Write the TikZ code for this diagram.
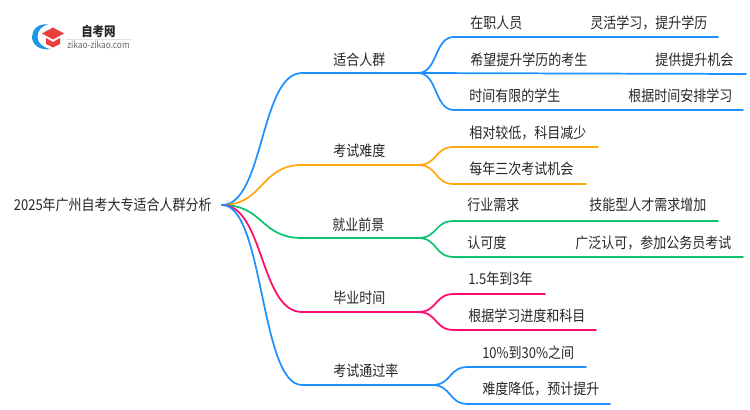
\documentclass[tikz,border=0pt]{standalone}
\usepackage{xcolor}
\usepackage{fontspec}
\usepackage{tikz}
\setmainfont{Noto Sans CJK SC}
\definecolor{lineblue}{HTML}{1E90FF}
\definecolor{lineorange}{HTML}{FFA80F}
\definecolor{linegreen}{HTML}{0CC46F}
\definecolor{linepink}{HTML}{FF0A6C}
\definecolor{logoblue}{HTML}{1E96E6}
\definecolor{logored}{HTML}{E8403C}
\begin{document}
\begin{tikzpicture}[x=0.75pt,y=-0.75pt,
							every node/.style={inner sep=0pt,anchor=west,yscale=1.15,transform shape,font=\fontsize{9.75pt}{12pt}\selectfont,text=black!85},
							wire/.style={line width=1.3pt,line cap=round},
							bend wire/.style={wire,to path={.. controls +(#1,0) and +(-#1,0) .. (\tikztotarget)}},
							bend wire/.default=20]
			\useasboundingbox (0,0) rectangle (750,410);
			% logo
			\fill[logoblue] (48,24.5) .. controls (38,23) and (32,30) .. (32,37) .. controls (32,44) and (39,51) .. (51,49) .. controls (43,48) and (37.5,43) .. (37.5,37) .. controls (37.5,31) and (41,26) .. (48,24.5) -- cycle;
			\fill[logored] (42,33.5) -- (53,27.5) -- (64,33.5) -- (53,39.5) -- cycle;
			\fill[logored] (46,38) -- (53,42) -- (60,38) -- (60,44) -- (53,47.5) -- (46,44) -- cycle;
			\node[font=\fontsize{8.6pt}{12pt}\selectfont\bfseries] (logotitle) at (81,31) {自考网};
			\node[font=\fontsize{6.2pt}{7pt}\selectfont,text=black!60] (logourl) at (67,45) {zikao-zikao.com};
			\coordinate (rulea) at (66,39);
			\coordinate (ruleb) at (131,39);
			\draw[black!12,line width=0.5pt] (rulea) -- (ruleb);
			% root
			\node[anchor=east,inner xsep=7.5pt] (root) at (222,205) {2025年广州自考大专适合人群分析};
			% branches
			\coordinate (fita) at (302,73);
			\coordinate (fitb) at (418,73);
			\coordinate (harda) at (302,165);
			\coordinate (hardb) at (418,165);
			\coordinate (joba) at (302,238);
			\coordinate (jobb) at (418,238);
			\coordinate (timea) at (302,312);
			\coordinate (timeb) at (418,312);
			\coordinate (passa) at (302,385);
			\coordinate (passb) at (432,385);
			\node (fit) at (333,60) {适合人群};
			\node (hard) at (333,151) {考试难度};
			\node (job) at (332,225) {就业前景};
			\node (time) at (333,298) {毕业时间};
			\node (pass) at (333,371) {考试通过率};
			\draw[bend wire=42,lineblue] (root.east) to (fita) -- (fitb);
			\draw[bend wire=42,lineorange] (root.east) to (harda) -- (hardb);
			\draw[bend wire=42,linegreen] (root.east) to (joba) -- (jobb);
			\draw[bend wire=42,linepink] (root.east) to (timea) -- (timeb);
			\draw[bend wire=42,lineblue] (root.east) to (passa) -- (passb);
			% leaves
			\node (fit1) at (470,23) {在职人员};
			\node (fit1x) at (590,23) {灵活学习，提升学历};
			\node (fit2) at (470,60) {希望提升学历的考生};
			\node (fit2x) at (655,60) {提供提升机会};
			\node (fit3) at (469,96) {时间有限的学生};
			\node (fit3x) at (628,96) {根据时间安排学习};
			\node (hard1) at (469,133) {相对较低，科目减少};
			\node (hard2) at (469,169) {每年三次考试机会};
			\node (job1) at (467,205) {行业需求};
			\node (job1x) at (589,205) {技能型人才需求增加};
			\node (job2) at (467,243) {认可度};
			\node (job2x) at (575,243) {广泛认可，参加公务员考试};
			\node (time1) at (468,279) {1.5年到3年};
			\node (time2) at (468,316) {根据学习进度和科目};
			\node (pass1) at (482,353) {10\%到30\%之间};
			\node (pass2) at (482,389) {难度降低，预计提升};
			\coordinate (fit1a) at (454,37);
			\coordinate (fit1e) at (718,37);
			\coordinate (fit2e) at (746,74);
			\coordinate (fit3a) at (454,110);
			\coordinate (fit3e) at (743,110);
			\coordinate (hard1a) at (454,147);
			\coordinate (hard1e) at (598,147);
			\coordinate (hard2a) at (454,184);
			\coordinate (hard2e) at (586,184);
			\coordinate (job1a) at (454,221);
			\coordinate (job1e) at (718,221);
			\coordinate (job2a) at (454,257);
			\coordinate (job2e) at (743,257);
			\coordinate (time1a) at (454,294);
			\coordinate (time1e) at (545,294);
			\coordinate (time2a) at (454,330);
			\coordinate (time2e) at (596,330);
			\coordinate (pass1a) at (468,367);
			\coordinate (pass1e) at (586,367);
			\coordinate (pass2a) at (468,404);
			\coordinate (pass2e) at (610,404);
			\draw[bend wire,lineblue] (fitb) to (fit1a) -- (fit1e);
			\draw[wire,lineblue] (fitb) -- (fit2e);
			\draw[bend wire,lineblue] (fitb) to (fit3a) -- (fit3e);
			\draw[bend wire,lineorange] (hardb) to (hard1a) -- (hard1e);
			\draw[bend wire,lineorange] (hardb) to (hard2a) -- (hard2e);
			\draw[bend wire,linegreen] (jobb) to (job1a) -- (job1e);
			\draw[bend wire,linegreen] (jobb) to (job2a) -- (job2e);
			\draw[bend wire,linepink] (timeb) to (time1a) -- (time1e);
			\draw[bend wire,linepink] (timeb) to (time2a) -- (time2e);
			\draw[bend wire,lineblue] (passb) to (pass1a) -- (pass1e);
			\draw[bend wire,lineblue] (passb) to (pass2a) -- (pass2e);
		\end{tikzpicture}
\end{document}
